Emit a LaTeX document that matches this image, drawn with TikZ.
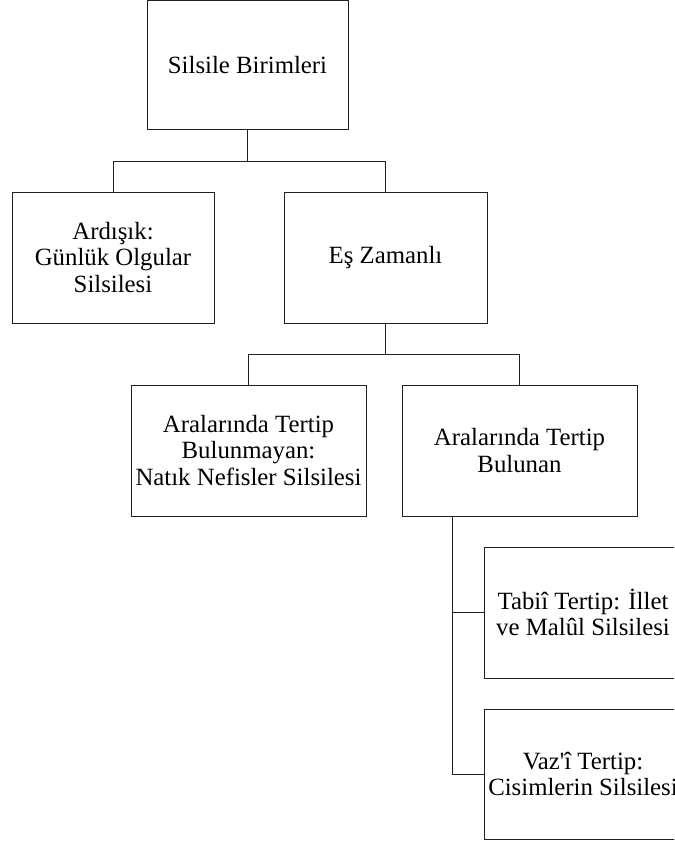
\documentclass[tikz,border=0pt]{standalone}
\usepackage{fontspec}
\newfontfamily\boxfont{Liberation Serif}
\begin{document}
\begin{tikzpicture}[x=1pt,y=-1pt,
  box/.style={draw=black!88,line width=1pt,rectangle,inner sep=0pt,align=center,
    font=\boxfont\fontsize{24.8}{26.6}\selectfont},
  link/.style={draw=black!88,line width=1pt}]
\useasboundingbox (0,0) rectangle (674,845);
\clip (0,0) rectangle (674,845);
\fill[white] (0,0) rectangle (674,845);
% nodes
\node[box,minimum width=201pt,minimum height=129.5pt] (top) at (247.5,65.25) {Silsile Birimleri};
\node[box,minimum width=202pt,minimum height=131pt] (ardisik) at (113,257.5) {Ardışık:\\Günlük Olgular\\Silsilesi};
\node[box,minimum width=203pt,minimum height=131pt] (es) at (385.5,257.5) {Eş Zamanlı};
\node[box,minimum width=235pt,minimum height=131pt] (yok) at (248.5,450.5) {Aralarında Tertip\\Bulunmayan:\\Natık Nefisler Silsilesi};
\node[box,minimum width=235pt,minimum height=131pt] (var) at (519.5,450.5) {Aralarında Tertip\\Bulunan};
\node[box,minimum width=198pt,minimum height=131pt] (tabii) at (583,612.5) {Tabiî Tertip: İllet\\ve Malûl Silsilesi};
\node[box,minimum width=198pt,minimum height=130pt] (vazi) at (583,774) {Vaz'î Tertip:\\Cisimlerin Silsilesi};
% junctions
\coordinate (j1) at (247.5,162);
\coordinate (j2) at (385.5,354);
\coordinate (t1) at (452,516);
\coordinate (b1) at (452,612.5);
\coordinate (b2) at (452,774);
% connectors
\draw[link] (top.south) -- (j1) -| (ardisik.north);
\draw[link] (j1) -| (es.north);
\draw[link] (es.south) -- (j2) -| (yok.north);
\draw[link] (j2) -| (var.north);
\draw[link] (t1) -- (b2) -- (vazi.west);
\draw[link] (b1) -- (tabii.west);
\end{tikzpicture}
\end{document}
